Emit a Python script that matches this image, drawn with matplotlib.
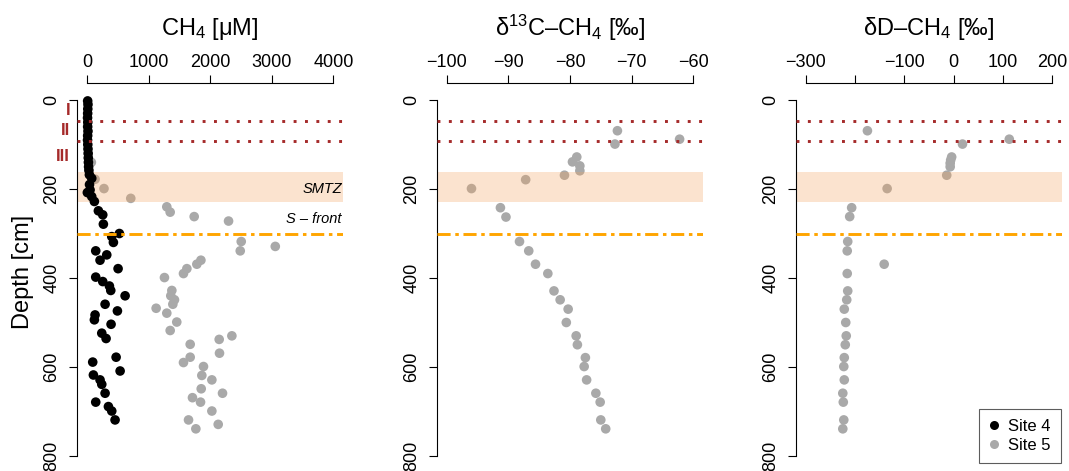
import matplotlib
matplotlib.use('Agg')
import matplotlib.pyplot as plt
from matplotlib.lines import Line2D

plt.rcParams['font.family'] = ['Liberation Sans', 'DejaVu Sans']
plt.rcParams['mathtext.fontset'] = 'custom'
plt.rcParams['mathtext.rm'] = 'Liberation Sans'
plt.rcParams['mathtext.it'] = 'Liberation Sans:italic'
plt.rcParams['mathtext.default'] = 'regular'

# ---------------- data ----------------
# Site 4 methane concentration
ch4_site4_depth = [2, 10, 20, 30, 40, 50, 60, 70, 80, 90, 100, 110, 120, 130, 140, 150, 158, 168,
                   176, 190, 202, 208, 217, 228, 249, 258, 279, 300, 307, 320, 339, 348, 360,
                   379, 398, 408, 418, 428, 440, 459, 474, 483, 494, 504, 524, 536, 578, 589,
                   609, 618, 629, 639, 659, 679, 689, 699, 719]
ch4_site4 = [10, 15, 12, 10, 8, 12, 10, 15, 10, 8, 12, 15, 18, 20, 22, 25, 30, 38,
             76, 40, 49, 5, 76, 119, 184, 255, 265, 525, 401, 428, 141, 320, 211,
             504, 141, 255, 363, 385, 618, 293, 493, 130, 119, 390, 239, 309, 472, 92,
             537, 103, 211, 239, 293, 141, 347, 401, 455]

# Site 5 methane concentration
ch4_site5_depth = [140, 178, 199, 221, 240, 252, 262, 272, 318, 329, 339, 360, 369, 379, 390,
                   399, 428, 440, 449, 459, 468, 479, 499, 518, 530, 538, 549, 569, 578, 590,
                   599, 619, 629, 649, 659, 669, 679, 699, 719, 729, 739]
ch4_site5 = [70, 130, 275, 710, 1295, 1350, 1740, 2298, 2504, 3057, 2488, 1849, 1783, 1621, 1566,
             1257, 1377, 1360, 1420, 1393, 1122, 1295, 1457, 1350, 2352, 2146, 1675, 2151, 1675, 1566,
             1891, 1864, 2027, 1854, 2200, 1712, 1843, 2027, 1648, 2130, 1767]

# Site 5 d13C-CH4
d13c_depth = [69, 88, 99, 128, 139, 148, 159, 169, 179, 199, 242, 263, 318, 339, 369, 390, 429,
              449, 470, 500, 530, 550, 579, 599, 629, 659, 679, 719, 739]
d13c = [-72.3, -62.2, -72.7, -78.9, -79.6, -78.4, -78.4, -80.9, -87.2, -96.0, -91.3, -90.4,
        -88.2, -86.7, -85.6, -83.6, -82.6, -81.6, -80.3, -80.6, -79.0, -78.8, -77.5, -77.7,
        -77.3, -75.8, -75.1, -75.0, -74.2]

# Site 5 dD-CH4
dd_depth = [69, 88, 99, 128, 135, 142, 150, 169, 199, 242, 262, 318, 339, 369, 390, 429, 449,
            470, 500, 530, 550, 579, 599, 629, 659, 679, 719, 739]
dd = [-175, 113, 18, -4, -6, -7, -7, -14, -135, -207, -211, -215, -216, -141, -216, -215, -217,
      -222, -219, -218, -220, -222, -223, -222, -225, -224, -223, -225]

zone_lines = [46, 91]
zone_labels = ['I', 'II', 'III']
zone_label_depth = [24, 69, 127]
smtz = (162, 230)
sfront = 300

depth_ticks = [0, 200, 400, 600, 800]
ch4_ticks = [0, 1000, 2000, 3000, 4000]
ch4_ticklabels = ['0', '1000', '2000', '3000', '4000']
d13c_ticks = [-100, -90, -80, -70, -60]
d13c_ticklabels = ['\u2212100', '\u221290', '\u221280', '\u221270', '\u221260']
dd_ticks = [-300, -200, -100, 0, 100, 200]
dd_ticklabels = ['\u2212300', '', '\u2212100', '0', '100', '200']

titles = ['CH$_4$ [\u03bcM]', '\u03b4$^{13}$C\u2013CH$_4$ [\u2030]', '\u03b4D\u2013CH$_4$ [\u2030]']

# ---------------- figure ----------------
W, H = 1069, 471
fig = plt.figure(figsize=(W / 100, H / 100), dpi=100)

def rect(left, right, top, bottom):
    return [left / W, 1 - bottom / H, (right - left) / W, (bottom - top) / H]

ax_top, ax_bot = 85.8, 470.2
lefts = [77.2, 437, 796]
width = 266

c_black = 'black'
c_grey = '#A9A9A9'
c_zone = '#A52A2A'
c_band = 'sandybrown'
c_front = '#FFA500'
S = 48

panel_ticks = [(ch4_ticks, ch4_ticklabels), (d13c_ticks, d13c_ticklabels), (dd_ticks, dd_ticklabels)]
axes = []
for i in range(3):
    ax = fig.add_axes(rect(lefts[i], lefts[i] + width, ax_top, ax_bot))
    axes.append(ax)
    ticks, labels = panel_ticks[i]
    span = ticks[-1] - ticks[0]
    ax.set_xlim(ticks[0] - 0.04 * span, ticks[-1] + 0.04 * span)
    ax.set_ylim(800 + 32, -32)
    ax.patch.set_alpha(0)
    for s in ['right', 'bottom']:
        ax.spines[s].set_visible(False)
    ax.spines['top'].set_bounds(ticks[0], ticks[-1])
    ax.spines['top'].set_position(('outward', 2))
    ax.spines['left'].set_bounds(0, 800)
    for s in ['top', 'left']:
        ax.spines[s].set_linewidth(0.8)
    ax.xaxis.tick_top()
    ax.set_xticks(ticks)
    ax.set_xticklabels(labels)
    ax.set_yticks(depth_ticks)
    ax.set_yticklabels([str(t) for t in depth_ticks], rotation=90, va='center')
    ax.tick_params(axis='x', direction='out', length=6, width=0.8, labelsize=13, pad=3)
    ax.tick_params(axis='y', direction='out', length=6, width=0.8, labelsize=13, pad=6)
    # features
    ax.axhspan(smtz[0], smtz[1], color=c_band, alpha=0.3, lw=0, zorder=2)
    for z in zone_lines:
        ax.axhline(z, color=c_zone, lw=2.1, linestyle=(0, (1, 2.9)), zorder=4)
    ax.axhline(sfront, color=c_front, lw=2.1, linestyle=(0, (4.5, 1.6, 1.2, 1.6)), zorder=4)
    cx = (lefts[i] + width / 2) / W
    fig.text(cx, 1 - 35.5 / H, titles[i], ha='center', va='baseline', fontsize=17)

ax1, ax2, ax3 = axes
ax1.scatter(ch4_site5, ch4_site5_depth, s=S, color=c_grey, edgecolors='none', zorder=1)
ax1.scatter(ch4_site4, ch4_site4_depth, s=S, color=c_black, edgecolors='none', zorder=3)
ax2.scatter(d13c, d13c_depth, s=S, color=c_grey, edgecolors='none', zorder=1)
ax3.scatter(dd, dd_depth, s=S, color=c_grey, edgecolors='none', zorder=1)

# annotations in panel 1
ax1.text(0.995, (smtz[0] + smtz[1]) / 2 + 4, 'SMTZ', transform=ax1.get_yaxis_transform(),
         ha='right', va='center', fontsize=10.5, style='italic', zorder=5)
ax1.text(0.995, 268, 'S \u2013 front', transform=ax1.get_yaxis_transform(),
         ha='right', va='center', fontsize=10.5, style='italic', zorder=5)
for lab, dep in zip(zone_labels, zone_label_depth):
    ax1.text(-0.027, dep, lab, transform=ax1.get_yaxis_transform(), ha='right', va='center',
             fontsize=12, fontweight='bold', color=c_zone, clip_on=False)

fig.text(23 / W, 1 - 272 / H, 'Depth [cm]', rotation=90, ha='center', va='center', fontsize=17)

handles = [Line2D([], [], marker='o', linestyle='none', color=c_black, markersize=6.5, markeredgewidth=0),
           Line2D([], [], marker='o', linestyle='none', color=c_grey, markersize=6.5, markeredgewidth=0)]
leg = fig.legend(handles, ['Site 4', 'Site 5'], loc='upper right',
                 bbox_to_anchor=(1061 / W, 1 - 409 / H), bbox_transform=fig.transFigure,
                 fontsize=12, frameon=True, fancybox=False, edgecolor='#333333',
                 handlelength=0.6, handletextpad=0.55, borderpad=0.6, labelspacing=0.25,
                 borderaxespad=0)
leg.get_frame().set_linewidth(0.8)

fig.savefig('out.png', dpi=100)
